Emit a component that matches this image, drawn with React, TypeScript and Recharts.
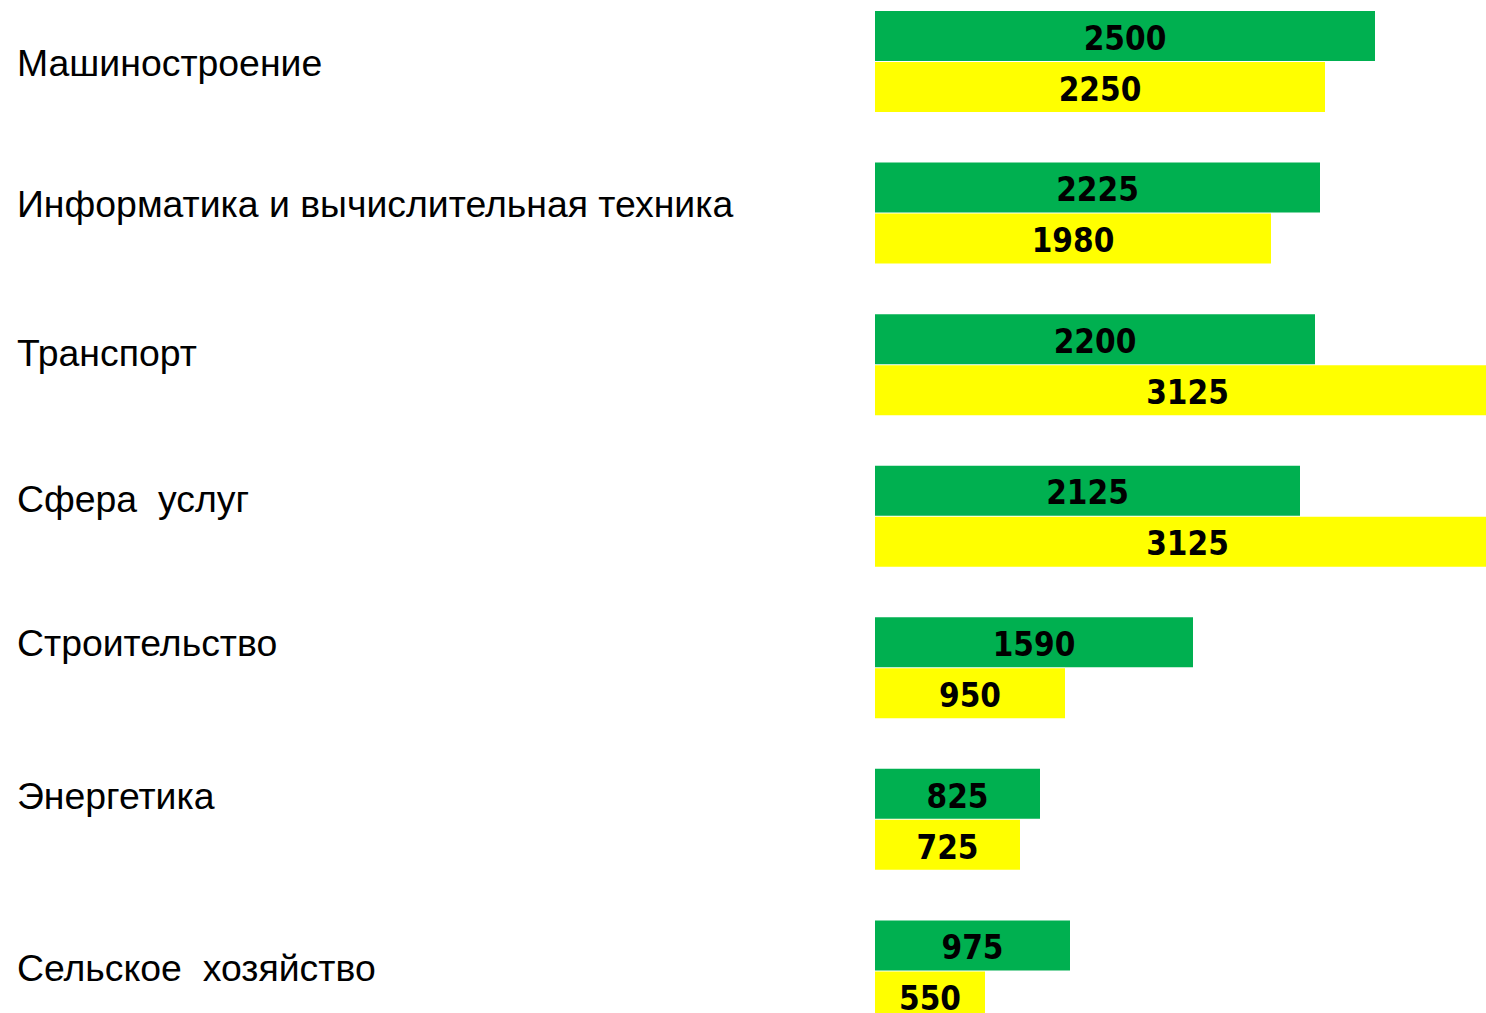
import { BarChart, Bar, XAxis, YAxis, LabelList } from "recharts";

const sectors = [
  "Машиностроение",
  "Информатика и вычислительная техника",
  "Транспорт",
  "Сфера  услуг",
  "Строительство",
  "Энергетика",
  "Сельское  хозяйство",
];
const greenValues = [2500, 2225, 2200, 2125, 1590, 825, 975];
const yellowValues = [2250, 1980, 3125, 3125, 950, 725, 550];

// labels in the original are loose text boxes, not exactly centred on their bars
const labelNudge = [1, -9, -12, -18, -25, -24, -3];

const rows = sectors.map((name, i) => ({
  name,
  green: greenValues[i],
  yellow: yellowValues[i],
}));

const SectorTick = (props: any) => {
  const { y, payload, index } = props;
  return (
    <text
      x={17}
      y={y + 13 + (labelNudge[index] ?? 0)}
      textAnchor="start"
      fill="#000"
      fontSize={37.4}
      fontFamily="'Liberation Sans', Arial, sans-serif"
      style={{ whiteSpace: "pre" }}
    >
      {payload.value}
    </text>
  );
};

const valueLabel = {
  position: "center" as const,
  fill: "#000",
  fontSize: 33,
  fontWeight: 700,
  fontFamily: "'DejaVu Sans Condensed', 'DejaVu Sans', sans-serif",
  dy: 2,
};

export default function App() {
  return (
    <div
      style={{
        position: "fixed",
        left: 0,
        top: 0,
        width: 1486,
        height: 1013,
        overflow: "hidden",
        background: "#fff",
      }}
    >
      <div style={{ position: "absolute", left: 0, top: -14 }}>
        <BarChart
          width={1500}
          height={1061}
          data={rows}
          layout="vertical"
          margin={{ top: 0, right: 0, bottom: 0, left: 0 }}
          barSize={50}
          barGap={1}
        >
          <XAxis type="number" domain={[0, 3125]} hide />
          <YAxis
            type="category"
            dataKey="name"
            width={875}
            axisLine={false}
            tickLine={false}
            tick={<SectorTick />}
            interval={0}
          />
          <Bar dataKey="green" fill="#00B050" isAnimationActive={false}>
            <LabelList dataKey="green" {...valueLabel} />
          </Bar>
          <Bar dataKey="yellow" fill="#FFFF00" isAnimationActive={false}>
            <LabelList dataKey="yellow" {...valueLabel} />
          </Bar>
        </BarChart>
      </div>
    </div>
  );
}
